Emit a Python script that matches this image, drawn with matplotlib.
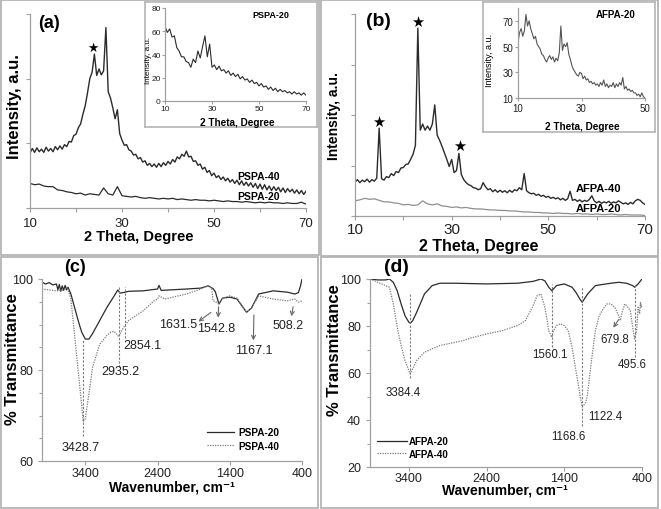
import numpy as np
import matplotlib
matplotlib.use('Agg')
import matplotlib.pyplot as plt
from matplotlib.patches import Rectangle

plt.rcParams['font.family'] = ['Liberation Sans', 'DejaVu Sans']

# ---------------- DATA ----------------
# (a) XRD, 2theta 10..70 step 0.5
pspa40 = [0.85, 0.92, 0.86, 0.93, 0.87, 0.91, 0.86, 0.94, 0.88, 0.92,
          0.87, 0.95, 0.90, 0.96, 0.91, 0.98, 0.95, 1.03, 1.02, 1.12,
          1.14, 1.24, 1.30, 1.45, 1.58, 1.78, 2.00, 2.10, 2.38, 2.05,
          2.15, 2.06, 2.12, 2.79, 1.80, 1.70, 1.55, 1.38, 1.52, 1.15,
          1.05, 0.97, 0.98, 0.90, 0.88, 0.82, 0.83, 0.76, 0.78, 0.71,
          0.73, 0.66, 0.69, 0.64, 0.68, 0.63, 0.69, 0.64, 0.70, 0.66,
          0.72, 0.68, 0.75, 0.71, 0.79, 0.76, 0.83, 0.80, 0.88, 0.79,
          0.80, 0.72, 0.73, 0.66, 0.68, 0.60, 0.63, 0.55, 0.58, 0.50,
          0.54, 0.47, 0.50, 0.44, 0.48, 0.42, 0.46, 0.40, 0.44, 0.38,
          0.43, 0.36, 0.42, 0.35, 0.40, 0.34, 0.39, 0.32, 0.38, 0.30,
          0.37, 0.29, 0.36, 0.28, 0.34, 0.27, 0.33, 0.27, 0.32, 0.25,
          0.31, 0.24, 0.30, 0.25, 0.29, 0.23, 0.28, 0.22, 0.27, 0.21,
          0.26]
# step 1 degree 10..70
pspa20 = [0.38, 0.36, 0.37, 0.34, 0.33, 0.33, 0.28, 0.27, 0.25, 0.24,
          0.22, 0.23, 0.20, 0.22, 0.21, 0.20, 0.31, 0.22, 0.20, 0.33,
          0.19, 0.18, 0.17, 0.18, 0.16, 0.15, 0.16, 0.15, 0.14, 0.15,
          0.14, 0.15, 0.13, 0.14, 0.13, 0.12, 0.13, 0.12, 0.12, 0.11,
          0.12, 0.11, 0.10, 0.11, 0.10, 0.10, 0.09, 0.10, 0.09, 0.08,
          0.09, 0.08, 0.09, 0.08, 0.08, 0.07, 0.08, 0.07, 0.07, 0.09,
          0.06]
# inset (a) step 1 degree 10..70
pspa20_inset = [64, 59, 62, 55, 56, 46, 43, 38, 38, 34,
                33, 29, 36, 33, 43, 37, 47, 56, 38, 49,
                29, 31, 27, 30, 26, 27, 24, 26, 22, 24,
                21, 23, 19, 21, 18, 19, 16, 18, 15, 16,
                13, 15, 12, 13, 10, 12, 9, 11, 8, 10,
                8, 9, 7, 8, 6, 8, 6, 7, 5, 7,
                5]
# (b) XRD, step 0.5 10..70
afpa40 = [0.67, 0.72, 0.66, 0.71, 0.68, 0.73, 0.67, 0.72, 0.69, 0.75,
          1.74, 0.74, 0.71, 0.78, 0.76, 0.84, 0.80, 0.88, 0.86, 0.95,
          0.96, 1.02, 1.03, 1.12, 1.22, 1.40, 3.72, 1.70, 1.82, 1.70,
          1.78, 1.70, 1.82, 2.20, 1.60, 1.50, 1.38, 1.25, 1.12, 0.98,
          1.12, 0.86, 0.90, 1.24, 0.82, 0.72, 0.66, 0.62, 0.60, 0.56,
          0.55, 0.52, 0.54, 0.66, 0.58, 0.52, 0.54, 0.48, 0.52, 0.47,
          0.51, 0.47, 0.50, 0.46, 0.51, 0.47, 0.52, 0.50, 0.56, 0.52,
          0.84, 0.50, 0.46, 0.44, 0.45, 0.41, 0.43, 0.39, 0.41, 0.37,
          0.39, 0.35, 0.37, 0.34, 0.36, 0.32, 0.35, 0.31, 0.34, 0.49,
          0.31, 0.33, 0.29, 0.32, 0.28, 0.31, 0.29, 0.33, 0.40, 0.30,
          0.26, 0.29, 0.25, 0.28, 0.26, 0.29, 0.25, 0.28, 0.26, 0.30,
          0.27, 0.24, 0.26, 0.23, 0.27, 0.24, 0.30, 0.33, 0.31, 0.26,
          0.23]
# step 1 degree 10..70
afpa20 = [0.30, 0.32, 0.35, 0.33, 0.34, 0.31, 0.28, 0.28, 0.26, 0.25,
          0.22, 0.23, 0.21, 0.22, 0.30, 0.24, 0.22, 0.24, 0.20, 0.19,
          0.17, 0.18, 0.16, 0.17, 0.15, 0.14, 0.14, 0.13, 0.12, 0.12,
          0.11, 0.11, 0.10, 0.10, 0.09, 0.08, 0.08, 0.07, 0.07, 0.06,
          0.06, 0.05, 0.06, 0.05, 0.05, 0.04, 0.05, 0.04, 0.04, 0.03,
          0.04, 0.03, 0.03, 0.04, 0.03, 0.02, 0.03, 0.02, 0.02, 0.02,
          0.01]
# inset (b) step 0.5 10..50
afpa20_inset = [53, 61, 64, 58, 62, 75, 66, 70, 64, 60,
                56, 58, 52, 50, 48, 44, 43, 40, 38, 41,
                43, 40, 42, 38, 41, 39, 45, 66, 47, 52,
                50, 53, 44, 40, 35, 32, 30, 28, 27, 30,
                29, 25, 27, 24, 25, 22, 23, 21, 22, 20,
                21, 19, 22, 20, 24, 19, 21, 18, 20, 19,
                22, 18, 21, 19, 22, 20, 26, 17, 19, 16,
                17, 15, 16, 14, 14, 12, 13, 11, 14, 11,
                10]

th_half = np.arange(10, 70.25, 0.5)
th_one = np.arange(10, 71, 1)
th_inset_b = np.arange(10, 50.25, 0.5)

# (c) FTIR
wn_pspa20 = [4000, 3950, 3900, 3850, 3800, 3780, 3760, 3740, 3720, 3700,
             3680, 3660, 3640, 3600, 3550, 3500, 3450, 3400, 3350, 3300,
             3200, 3100, 3000, 2950, 2920, 2880, 2850, 2800, 2600, 2400,
             2380, 2350, 2000, 1800, 1700, 1632, 1600, 1550, 1500, 1400,
             1300, 1200, 1167, 1100, 1000, 800, 600, 500, 450, 420, 400]
t_pspa20 = [99.3, 98.9, 99.2, 98.7, 98.9, 97.6, 98.8, 97.3, 98.5, 97.5,
            98.6, 97.6, 98.2, 96.7, 93.8, 90.9, 88.3, 86.8, 86.8, 88.0,
            90.9, 93.8, 96.3, 97.6, 96.9, 97.0, 97.1, 97.3, 97.4, 97.8,
            98.6, 97.5, 97.8, 98.0, 98.5, 97.9, 97.2, 94.5, 95.8, 96.0,
            95.6, 93.4, 92.7, 93.6, 96.7, 97.4, 97.1, 96.7, 97.0, 98.5,
            100.0]
wn_pspa40 = [4000, 3900, 3800, 3700, 3650, 3600, 3550, 3500, 3450, 3430,
             3400, 3350, 3300, 3200, 3100, 3050, 3000, 2935, 2900, 2850,
             2800, 2600, 2450, 2400, 2380, 2300, 2000, 1800, 1700, 1650,
             1632, 1600, 1550, 1500, 1400, 1300, 1200, 1167, 1100, 1000,
             800, 600, 500, 450, 400]
t_pspa40 = [97.8, 97.6, 97.4, 97.6, 98.2, 95.6, 87.9, 79.9, 72.2, 68.6,
            69.3, 74.8, 80.6, 85.7, 87.6, 88.3, 88.5, 87.3, 88.6, 89.8,
            90.9, 93.0, 95.2, 95.6, 96.3, 95.6, 96.7, 97.8, 98.5, 98.0,
            95.2, 95.0, 94.5, 95.8, 96.3, 95.8, 93.4, 92.7, 93.6, 96.3,
            95.6, 95.2, 95.6, 94.9, 95.2]
# (d) FTIR
wn_afpa20 = [3900, 3800, 3700, 3650, 3600, 3550, 3500, 3450, 3400, 3380,
             3350, 3300, 3200, 3100, 3000, 2800, 2400, 2000, 1800, 1700,
             1650, 1600, 1560, 1500, 1400, 1300, 1250, 1200, 1170, 1100,
             1000, 800, 700, 600, 520, 495, 450, 400]
t_afpa20 = [100, 99.6, 99.6, 100, 98.6, 95.0, 89.4, 84.4, 81.6, 81.2,
            82.3, 85.8, 93.6, 97.2, 98.2, 98.2, 97.9, 98.2, 99.0, 100,
            99.2, 96.5, 95.0, 97.2, 97.9, 96.5, 94.3, 91.5, 90.1, 93.6,
            97.2, 98.2, 98.6, 98.2, 97.2, 96.5, 97.9, 100]
wn_afpa40 = [3900, 3800, 3700, 3650, 3600, 3550, 3500, 3450, 3400, 3384,
             3350, 3300, 3200, 3100, 3000, 2800, 2700, 2600, 2400, 2200,
             2000, 1900, 1800, 1750, 1700, 1650, 1620, 1600, 1560, 1540,
             1500, 1450, 1400, 1350, 1300, 1250, 1200, 1170, 1150, 1122,
             1100, 1050, 1000, 950, 900, 850, 800, 750, 700, 680,
             650, 620, 600, 550, 520, 495, 470, 450, 430, 420,
             410, 400]
t_afpa40 = [100, 98.6, 97.2, 96.5, 89.4, 79.5, 71.7, 65.3, 61.0, 59.6,
            61.8, 65.3, 68.8, 70.3, 71.7, 73.1, 73.8, 74.9, 76.6, 78.0,
            80.2, 82.3, 88.7, 92.9, 93.6, 88.0, 82.3, 78.0, 75.2, 78.0,
            80.2, 80.9, 80.2, 78.0, 71.0, 61.0, 51.2, 45.5, 46.2, 47.6,
            51.2, 65.3, 78.0, 84.4, 87.3, 89.4, 89.4, 88.0, 84.4, 82.3,
            86.5, 89.4, 88.7, 86.5, 79.5, 74.5, 78.0, 88.0, 85.2, 90.0,
            87.8, 89.4]

# peak annotations: (label, wavenumber, line bottom, line top)
peaks_c = [("3428.7", 3428.7, 65.5, 86.8), ("2935.2", 2935.2, 80.6, 98.2),
           ("2854.1", 2854.1, 87.0, 98.2)]
peaks_d = [("3384.4", 3384.4, 58.0, 93.5), ("1560.1", 1560.1, 71.0, 97.8),
           ("1168.6", 1168.6, 37.5, 97.0), ("495.6", 495.6, 67.0, 97.5)]

# ---------------- FIGURE ----------------
W, H = 661, 510
fig = plt.figure(figsize=(W / 100, H / 100), dpi=100)

SP = '#a0a0a0'
DARK = '#2b2b2b'
DOT = '#7a7a7a'


def add_ax(l, t, r, b):
    return fig.add_axes([l / W, 1 - b / H, (r - l) / W, (b - t) / H])


def ftext(x, y, s, **kw):
    fig.text(x / W, 1 - y / H, s, ha='center', va='center', **kw)


def style(ax, labelsize):
    for s in ['top', 'right']:
        ax.spines[s].set_visible(False)
    for s in ['left', 'bottom']:
        ax.spines[s].set_color(SP)
        ax.spines[s].set_linewidth(0.9)
    ax.tick_params(colors=SP, labelcolor='#222222', labelsize=labelsize,
                   length=3, width=0.8)
    ax.tick_params(which='minor', colors=SP, length=2.5, width=0.8)


def frame(l, t, r, b):
    fig.add_artist(Rectangle((l / W, 1 - b / H), (r - l) / W, (b - t) / H,
                             transform=fig.transFigure, fill=False,
                             ec='#b4b4b4', lw=1.3))


def box(l, t, r, b):
    bx = add_ax(l, t, r, b)
    bx.set_xticks([])
    bx.set_yticks([])
    for s in bx.spines.values():
        s.set_color('#b4b4b4')
        s.set_linewidth(1.2)
    return bx


STAR = dict(family='DejaVu Sans', ha='center', va='center', color='black')

# ---- (a) ----
axa = add_ax(30, 15, 306, 209)
style(axa, 9.5)
axa.plot(th_half, pspa40, color=DARK, lw=1.0)
axa.plot(th_one, pspa20, color=DARK, lw=0.9)
axa.set_xlim(10, 70)
axa.set_ylim(0, 3)
axa.set_yticks([0, 1, 2, 3])
axa.set_yticklabels([])
axa.set_xticks(range(10, 71, 10))
axa.set_xticklabels(['10', '', '30', '', '50', '', '70'])
axa.text(59.6, 0.50, 'PSPA-40', fontsize=7.5, fontweight='bold', ha='center', va='center')
axa.text(59.6, 0.19, 'PSPA-20', fontsize=7.5, fontweight='bold', ha='center', va='center')
axa.text(23.7, 2.49, '\u2605', fontsize=9, **STAR)
ftext(49, 23, '(a)', fontsize=13, fontweight='bold')
ftext(15, 107, 'Intensity, a.u.', fontsize=12, fontweight='bold', rotation=90)
ftext(139, 237, '2 Theta, Degree', fontsize=10.5, fontweight='bold')

box(145, 3, 317, 128)
axai = add_ax(165, 9, 306, 102)
style(axai, 6)
axai.plot(th_one, pspa20_inset, color=DARK, lw=0.8)
axai.set_xlim(10, 70)
axai.set_ylim(0, 80)
axai.set_xticks([10, 30, 50, 70])
axai.set_yticks([0, 20, 40, 60, 80])
axai.tick_params(length=2, pad=1)
axai.text(55.1, 74.8, 'PSPA-20', fontsize=6.5, fontweight='bold', ha='center', va='center')
ftext(148, 60, 'Intensity, a.u.', fontsize=5.8, rotation=90)
ftext(237, 123, '2 Theta, Degree', fontsize=7.2, fontweight='bold')

# ---- (b) ----
axb = add_ax(355, 15, 645, 217)
style(axb, 11)
axb.tick_params(axis='x', pad=1)
axb.plot(th_half, afpa40, color=DARK, lw=1.0)
axb.plot(th_one, afpa20, color='#8f8f8f', lw=0.9)
axb.set_xlim(10, 70)
axb.set_ylim(0, 4)
axb.set_yticks([0, 1, 2, 3, 4])
axb.set_yticklabels([])
axb.set_xticks(range(10, 71, 10))
axb.set_xticklabels(['10', '', '30', '', '50', '', '70'])
axb.text(60.3, 0.56, 'AFPA-40', fontsize=8, fontweight='bold', ha='center', va='center')
axb.text(60.3, 0.16, 'AFPA-20', fontsize=8, fontweight='bold', ha='center', va='center')
for sx, sy in [(14.8, 1.875), (23.0, 3.85), (31.6, 1.40)]:
    axb.text(sx, sy, '\u2605', fontsize=10.5, **STAR)
ftext(378, 22, '(b)', fontsize=14, fontweight='bold')
ftext(334, 116, 'Intensity, a.u.', fontsize=10, fontweight='bold', rotation=90)
ftext(479, 246, '2 Theta, Degree', fontsize=11.5, fontweight='bold')

box(483, 3, 655, 133)
axbi = add_ax(518, 9, 645, 99)
style(axbi, 7)
axbi.plot(th_inset_b, afpa20_inset, color='#555555', lw=0.8)
axbi.set_xlim(10, 50)
axbi.set_ylim(10, 80)
axbi.set_xticks([10, 30, 50])
axbi.set_yticks([10, 30, 50, 70])
axbi.tick_params(length=2, pad=1.5)
axbi.text(40.6, 75.3, 'AFPA-20', fontsize=7, fontweight='bold', ha='center', va='center')
ftext(490, 60, 'Intensity, a.u.', fontsize=6.5, rotation=90)
ftext(582, 127, '2 Theta, Degree', fontsize=7.2, fontweight='bold')

# ---- (c) ----
axc = add_ax(42, 280, 302, 462)
style(axc, 9)
axc.tick_params(axis='x', pad=1)
lc1, = axc.plot(wn_pspa20, t_pspa20, color=DARK, lw=0.9, label='PSPA-20')
lc2, = axc.plot(wn_pspa40, t_pspa40, color=DOT, lw=0.9, ls=(0, (1, 1)), label='PSPA-40')
axc.set_xlim(4000, 400)
axc.set_ylim(60, 100)
axc.set_xticks([3400, 2400, 1400, 400])
axc.set_yticks([60, 80, 100])
axc.set_yticks([65, 70, 75, 85, 90, 95], minor=True)
for lab, w, y0, y1 in peaks_c:
    axc.vlines(w, y0, y1, colors=DOT, lw=0.8, linestyles=(0, (2, 1.5)))
tkw = dict(fontsize=9, ha='center', va='center', color='#222222')
axc.text(3470, 63.1, '3428.7', **tkw)
axc.text(2912, 79.7, '2935.2', **tkw)
axc.text(2609, 85.6, '2854.1', **tkw)
axc.text(2121, 90.0, '1631.5', **tkw)
axc.text(1586, 89.2, '1542.8', **tkw)
axc.text(1074, 84.3, '1167.1', **tkw)
axc.text(586, 89.8, '508.2', **tkw)
akw = dict(arrowstyle='->', color='#666666', lw=0.8, mutation_scale=7)
axc.annotate('', xy=(1865, 90.3), xytext=(1632, 93.0), arrowprops=akw)
axc.annotate('', xy=(1563, 90.9), xytext=(1553, 94.5), arrowprops=akw)
axc.annotate('', xy=(1074, 85.9), xytext=(1065, 92.7), arrowprops=akw)
axc.annotate('', xy=(553, 91.2), xytext=(516, 94.5), arrowprops=akw)
axc.legend(handles=[lc1, lc2], loc='upper left', bbox_to_anchor=(0.635, 0.185),
           frameon=False, borderpad=0, borderaxespad=0, handlelength=2.7,
           handletextpad=0.4, labelspacing=0.35,
           prop=dict(size=7.2, weight='bold'))
ftext(75, 268, '(c)', fontsize=13, fontweight='bold')
ftext(13, 359, '% Transmittance', fontsize=12, fontweight='bold', rotation=90)
ftext(172, 487, 'Wavenumber, cm\u207b\u00b9', fontsize=10, fontweight='bold')

# ---- (d) ----
axd = add_ax(370, 280, 642, 468)
style(axd, 9)
axd.tick_params(axis='x', pad=0.5)
ld1, = axd.plot(wn_afpa20, t_afpa20, color=DARK, lw=0.9, label='AFPA-20')
ld2, = axd.plot(wn_afpa40, t_afpa40, color=DOT, lw=0.9, ls=(0, (1, 1)), label='AFPA-40')
axd.set_xlim(3900, 400)
axd.set_ylim(20, 100)
axd.set_xticks([3400, 2400, 1400, 400])
axd.set_yticks([20, 40, 60, 80, 100])
axd.set_yticks([30, 50, 70, 90], minor=True)
for lab, w, y0, y1 in peaks_d:
    axd.vlines(w, y0, y1, colors=DOT, lw=0.8, linestyles=(0, (2, 1.5)))
tkw2 = dict(fontsize=8.3, ha='center', va='center', color='#222222')
axd.text(3478, 51.9, '3384.4', **tkw2)
axd.text(1587, 68.1, '1560.1', **tkw2)
axd.text(1350, 33.0, '1168.6', **tkw2)
axd.text(875, 41.7, '1122.4', **tkw2)
axd.text(530, 63.9, '495.6', **tkw2)
axd.text(746, 74.5, '679.8', **tkw2)
axd.annotate('', xy=(789, 78.3), xytext=(681, 83.7), arrowprops=akw)
axd.legend(handles=[ld1, ld2], loc='upper left', bbox_to_anchor=(0.026, 0.165),
           frameon=False, borderpad=0, borderaxespad=0, handlelength=3.1,
           handletextpad=0.15, labelspacing=0.3,
           prop=dict(size=7, weight='bold'))
ftext(396, 268, '(d)', fontsize=14, fontweight='bold')
ftext(335, 350, '% Transmittance', fontsize=12, fontweight='bold', rotation=90)
ftext(505, 491, 'Wavenumber, cm\u207b\u00b9', fontsize=10, fontweight='bold')

# panel frames
frame(1, 1, 319, 256)
frame(321, 1, 658, 257)
frame(1, 258, 318, 509)
frame(321, 258, 658, 509)

fig.savefig('out.png', dpi=100)
